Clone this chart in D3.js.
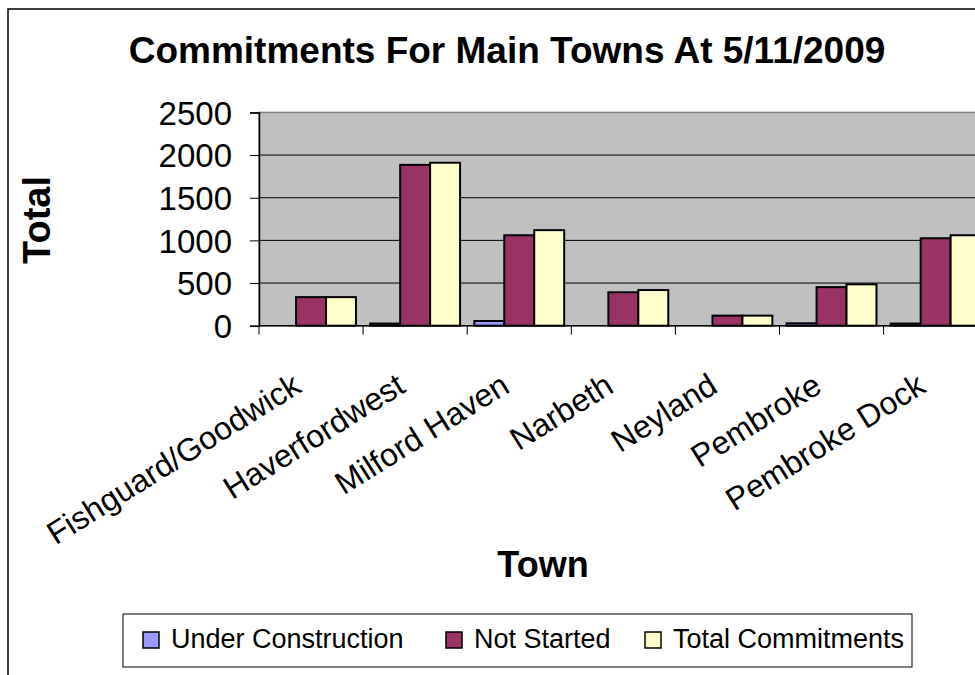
<!DOCTYPE html>
<html>
<head>
<meta charset="utf-8">
<script src="https://cdn.jsdelivr.net/npm/d3@7"></script>
<style>
  html, body { margin: 0; padding: 0; background: #fff; }
  svg { display: block; font-family: "Liberation Sans", Arial, sans-serif; }
</style>
</head>
<body>
<svg id="chart" width="975" height="675"></svg>
<script>
// Housing commitments by town
const towns = ["Fishguard/Goodwick", "Haverfordwest", "Milford Haven", "Narbeth", "Neyland", "Pembroke", "Pembroke Dock"];
const seriesNames = ["Under Construction", "Not Started", "Total Commitments"];
const underConstruction = [0, 25, 55, 0, 0, 28, 25];
const notStarted = [335, 1885, 1060, 392, 118, 452, 1025];
const totalCommitments = [335, 1910, 1120, 418, 118, 485, 1060];
const yTicks = [0, 500, 1000, 1500, 2000, 2500];
const colors = ["#9999FF", "#993366", "#FFFFCC"];

const series = [underConstruction, notStarted, totalCommitments];

const svg = d3.select("#chart");

// chart area border (extends past the right/bottom edge)
svg.append("rect")
  .attr("x", 8).attr("y", 9)
  .attr("width", 1000).attr("height", 700)
  .attr("fill", "#fff").attr("stroke", "#000").attr("stroke-width", 1.5);

const plot = { left: 259, top: 112.4, bottom: 325.7, bandW: 104.1 };
plot.right = plot.left + plot.bandW * towns.length;

const x = d3.scaleBand().domain(towns).range([plot.left, plot.right]).paddingInner(0).paddingOuter(0);
const xSeries = d3.scaleBand().domain(seriesNames).range([0, x.bandwidth()]).paddingInner(0).paddingOuter(0.238);
const y = d3.scaleLinear().domain([0, 2500]).range([plot.bottom, plot.top]);

// plot background
svg.append("rect")
  .attr("x", plot.left).attr("y", plot.top)
  .attr("width", plot.right - plot.left).attr("height", plot.bottom - plot.top)
  .attr("fill", "#C0C0C0").attr("stroke", "#808080").attr("stroke-width", 1.5);

// gridlines
svg.append("g").selectAll("line")
  .data(yTicks.filter(d => d > 0 && d < 2500))
  .join("line")
  .attr("x1", plot.left).attr("x2", plot.right)
  .attr("y1", d => y(d)).attr("y2", d => y(d))
  .attr("stroke", "#000").attr("stroke-width", 1);

// bars
const groups = svg.append("g").selectAll("g")
  .data(towns)
  .join("g")
  .attr("transform", d => `translate(${x(d)},0)`);

groups.selectAll("rect")
  .data((d, i) => seriesNames.map((s, j) => ({ s, v: series[j][i], c: colors[j] })))
  .join("rect")
  .filter(d => d.v > 0)
  .attr("x", d => xSeries(d.s))
  .attr("y", d => y(d.v))
  .attr("width", xSeries.bandwidth())
  .attr("height", d => y(0) - y(d.v))
  .attr("fill", d => d.c)
  .attr("stroke", "#000")
  .attr("stroke-width", 2);

// y axis
const yAxis = d3.axisLeft(y).tickValues(yTicks).tickSize(9).tickPadding(18).tickFormat(d3.format("d"));
const yg = svg.append("g").attr("transform", `translate(${plot.left},0)`).call(yAxis);
yg.select(".domain").attr("stroke", "#000").attr("stroke-width", 1.5);
yg.selectAll(".tick line").attr("stroke", "#000").attr("stroke-width", 1);
yg.selectAll(".tick text").attr("font-size", 33).attr("fill", "#000")
  .attr("font-family", "'Liberation Sans', Arial, sans-serif").attr("dy", "0.36em");

// x axis
const xg = svg.append("g").attr("transform", `translate(0,${plot.bottom})`);
xg.append("line")
  .attr("x1", plot.left).attr("x2", plot.right)
  .attr("stroke", "#000").attr("stroke-width", 1.5);
xg.selectAll("line.cat")
  .data(d3.range(towns.length + 1))
  .join("line")
  .attr("class", "cat")
  .attr("x1", i => plot.left + i * x.bandwidth()).attr("x2", i => plot.left + i * x.bandwidth())
  .attr("y1", 0).attr("y2", 9)
  .attr("stroke", "#000").attr("stroke-width", 1);

// rotated category labels
svg.append("g").selectAll("text")
  .data(towns)
  .join("text")
  .attr("transform", d => `translate(${x(d) + x.bandwidth() / 2 - 8},391) rotate(-32)`)
  .attr("text-anchor", "end")
  .attr("font-size", 32)
  .attr("fill", "#000")
  .text(d => d);

// titles
svg.append("text")
  .attr("x", 507).attr("y", 63)
  .attr("text-anchor", "middle")
  .attr("font-size", 37).attr("font-weight", "bold")
  .text("Commitments For Main Towns At 5/11/2009");

svg.append("text")
  .attr("transform", "translate(50,220) rotate(-90)")
  .attr("text-anchor", "middle")
  .attr("font-size", 38).attr("font-weight", "bold")
  .text("Total");

svg.append("text")
  .attr("x", 543).attr("y", 577)
  .attr("text-anchor", "middle")
  .attr("font-size", 36).attr("font-weight", "bold")
  .text("Town");

// legend
const legend = svg.append("g");
legend.append("rect")
  .attr("x", 123).attr("y", 614).attr("width", 789).attr("height", 53)
  .attr("fill", "#fff").attr("stroke", "#000").attr("stroke-width", 1);

const legendX = [143, 446, 645];
const items = legend.selectAll("g.item")
  .data(seriesNames)
  .join("g")
  .attr("class", "item")
  .attr("transform", (d, i) => `translate(${legendX[i]},632)`);
items.append("rect")
  .attr("width", 16).attr("height", 16)
  .attr("fill", (d, i) => colors[i])
  .attr("stroke", "#000").attr("stroke-width", 1.5);
items.append("text")
  .attr("x", 28).attr("y", 16)
  .attr("font-size", 27)
  .attr("fill", "#000")
  .text(d => d);
</script>
</body>
</html>
